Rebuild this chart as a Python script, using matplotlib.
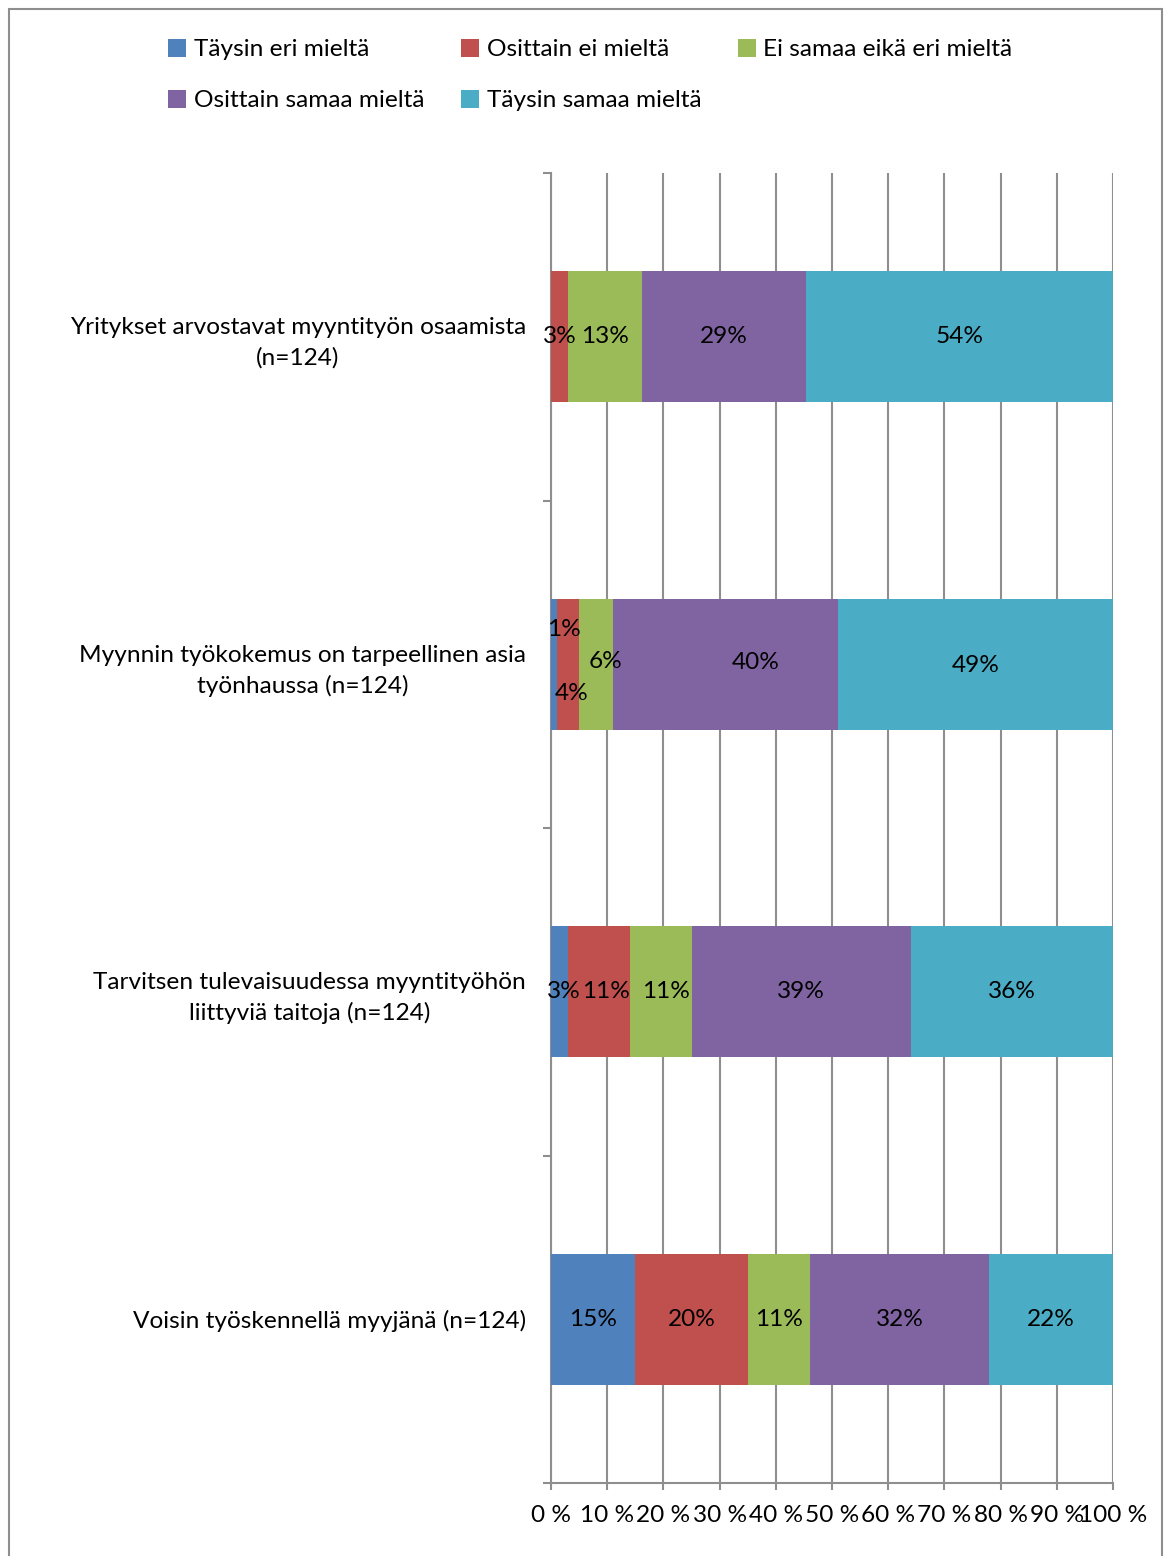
import matplotlib.pyplot as plt
import matplotlib
from matplotlib.patches import Rectangle, Patch
from matplotlib.ticker import FixedLocator
import numpy as np

matplotlib.rcParams['font.family'] = ['Lato', 'DejaVu Sans']
matplotlib.rcParams['font.size'] = 17.6

kysymykset = [
    'Yritykset arvostavat myyntityön osaamista\n(n=124)',
    'Myynnin työkokemus on tarpeellinen asia\ntyönhaussa (n=124)',
    'Tarvitsen tulevaisuudessa myyntityöhön\nliittyviä taitoja (n=124)',
    'Voisin työskennellä myyjänä (n=124)',
]
vastaukset = ['Täysin eri mieltä', 'Osittain ei mieltä', 'Ei samaa eikä eri mieltä',
              'Osittain samaa mieltä', 'Täysin samaa mieltä']
varit = ['#4F81BD', '#C0504D', '#9BBB59', '#8064A2', '#4BACC6']

# prosentit vastausvaihtoehdoittain, rivit = kysymykset
taysin_eri = [0, 1, 3, 15]
osittain_ei = [3, 4, 11, 20]
ei_samaa_eika_eri = [13, 6, 11, 11]
osittain_samaa = [29, 40, 39, 32]
taysin_samaa = [54, 49, 36, 22]

data = np.array([taysin_eri, osittain_ei, ei_samaa_eika_eri, osittain_samaa, taysin_samaa], dtype=float)
osuudet = data / data.sum(axis=0) * 100  # 100 % pinottu

# pienten arvojen tarrat siirretään, etteivät ne mene päällekkäin
siirrot = {(0, 1): (7, 25), (1, 1): (3, -21), (2, 1): (7, 2), (3, 1): (22, 1), (4, 1): (0, -1),
           (0, 2): (3, 0), (1, 2): (5, 0), (2, 2): (4, 0)}

fig = plt.figure(figsize=(11.67, 15.56), dpi=100)
ax = fig.add_axes([551 / 1167, 1 - 1483 / 1556, (1113 - 551) / 1167, (1483 - 173) / 1556])

y = np.arange(len(kysymykset))
vasen = np.zeros(len(kysymykset))
for i, nimi in enumerate(vastaukset):
    ax.barh(y, osuudet[i], left=vasen, height=0.4, color=varit[i], label=nimi, zorder=3)
    for j in range(len(kysymykset)):
        if data[i, j] == 0:
            continue
        dx, dy = siirrot.get((i, j), (0, 0))
        ax.annotate('%d%%' % data[i, j], (vasen[j] + osuudet[i, j] / 2, y[j]),
                    xytext=(dx, dy), textcoords='offset points',
                    ha='center', va='center', zorder=4)
    vasen += osuudet[i]

ax.set_xlim(0, 100)
ax.set_ylim(3.5, -0.5)
ax.set_xticks(np.arange(0, 101, 10))
ax.set_xticklabels(['%d %%' % v for v in range(0, 101, 10)])
ax.xaxis.grid(True, color='#8e8e8e', linewidth=1.5, zorder=0)

ax.yaxis.set_major_locator(FixedLocator(np.arange(-0.5, 4, 1)))
ax.set_yticklabels([])
ax.set_yticks(y, minor=True)
ax.set_yticklabels(kysymykset, minor=True, multialignment='center', linespacing=1.5)
ax.tick_params(axis='y', which='minor', length=0, pad=18)
ax.tick_params(axis='y', which='major', length=6, width=1.5, color='#8e8e8e')
ax.tick_params(axis='x', length=5, width=1.5, color='#8e8e8e', pad=11)

for s in ['top', 'right']:
    ax.spines[s].set_visible(False)
for s in ['left', 'bottom']:
    ax.spines[s].set_color('#8e8e8e')
    ax.spines[s].set_linewidth(1.5)

# selite riveittäin: legend täyttää sarakkeittain, joten järjestys vaihdetaan
jarjestys = [0, 3, 1, 4, 2]
kahvat = [Patch(facecolor=varit[k], edgecolor='none') for k in jarjestys]
fig.legend(kahvat, [vastaukset[k] for k in jarjestys], loc='upper left',
           bbox_to_anchor=(146 / 1167, 1 - 17 / 1556),
           ncol=3, frameon=False, handlelength=0.75, handleheight=0.75, handletextpad=0.3,
           columnspacing=1.5, labelspacing=1.2)

# kuvion reunus
fig.add_artist(Rectangle((9 / 1167, -0.01), (1162 - 9) / 1167, 1.01 - 9 / 1556,
                         transform=fig.transFigure, fill=False, edgecolor='#8e8e8e', linewidth=1.5))

fig.savefig('out.png', dpi=100)
